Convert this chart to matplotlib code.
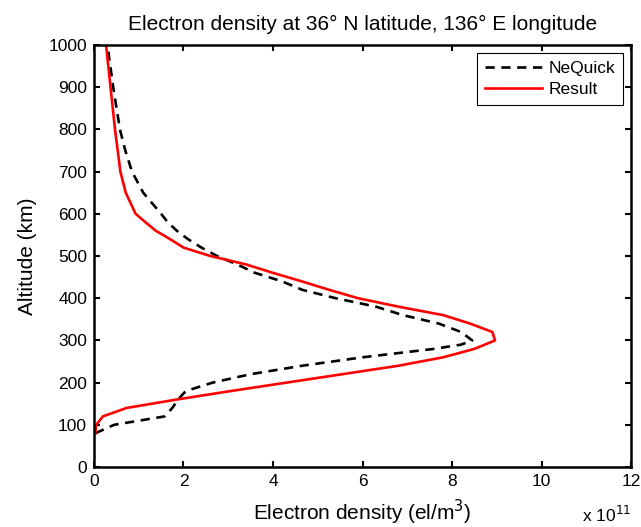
import numpy as np
import matplotlib
matplotlib.use('Agg')
from matplotlib import pyplot as plt

plt.rcParams['font.family'] = ['Liberation Sans', 'DejaVu Sans']

# altitude (km) and electron density (x 1e11 el/m^3)
alt_neq = [80, 100, 120, 140, 160, 180, 200, 220, 240, 260, 280, 290, 300, 320, 340,
           360, 380, 400, 420, 440, 460, 480, 500, 520, 540, 560, 580, 600, 625, 650,
           700, 750, 800, 900, 1000]
ne_neq = [0.03, 0.45, 1.58, 1.75, 1.88, 2.05, 2.65, 3.5, 4.65, 6.0, 7.6, 8.2, 8.45, 8.2, 7.7,
          6.9, 6.3, 5.4, 4.65, 4.2, 3.6, 3.2, 2.75, 2.4, 2.1, 1.85, 1.65, 1.5, 1.3, 1.1,
          0.85, 0.7, 0.58, 0.43, 0.3]

alt_res = [80, 100, 120, 140, 160, 180, 200, 220, 240, 260, 280, 300, 320, 340, 360,
           380, 400, 420, 440, 460, 480, 500, 520, 540, 560, 580, 600, 650, 700, 800,
           900, 1000]
ne_res = [0.03, 0.05, 0.2, 0.73, 1.85, 3.05, 4.3, 5.55, 6.8, 7.8, 8.5, 8.96, 8.9, 8.4, 7.8,
          6.8, 5.9, 5.25, 4.64, 4.0, 3.4, 2.6, 2.0, 1.7, 1.38, 1.15, 0.93, 0.71, 0.59, 0.47,
          0.37, 0.27]

fig = plt.figure(figsize=(6.41, 5.27), dpi=100)
ax = fig.add_axes([0.1466, 0.1138, 0.838, 0.8008])

ax.plot(ne_neq, alt_neq, 'k--', lw=1.9, dashes=(3.5, 2.5), label='NeQuick')
ax.plot(ne_res, alt_res, color='red', lw=1.9, label='Result')

ax.set_xlim(0, 12)
ax.set_ylim(0, 1000)
ax.set_xticks(np.arange(0, 13, 2))
ax.set_yticks(np.arange(0, 1001, 100))
ax.tick_params(direction='in', top=True, right=True, width=1.5, length=4, labelsize=12.5, pad=5)
for s in ax.spines.values():
    s.set_linewidth(1.8)

ax.set_title('Electron density at 36° N latitude, 136° E longitude', fontsize=15, pad=11)
ax.set_xlabel('Electron density (el/m$^3$)', fontsize=15, labelpad=6)
ax.set_ylabel('Altitude (km)', fontsize=15, labelpad=8)
ax.text(1.0, -0.137, 'x 10$^{11}$', transform=ax.transAxes, ha='right', va='bottom', fontsize=12.5)

leg = ax.legend(loc='upper right', fancybox=False, framealpha=1, edgecolor='black',
                fontsize=12.5, handlelength=3.3, borderaxespad=0.45,
                borderpad=0.45, labelspacing=0.35, handletextpad=0.4)
leg.get_frame().set_linewidth(0.8)

plt.savefig('out.png', dpi=100)
